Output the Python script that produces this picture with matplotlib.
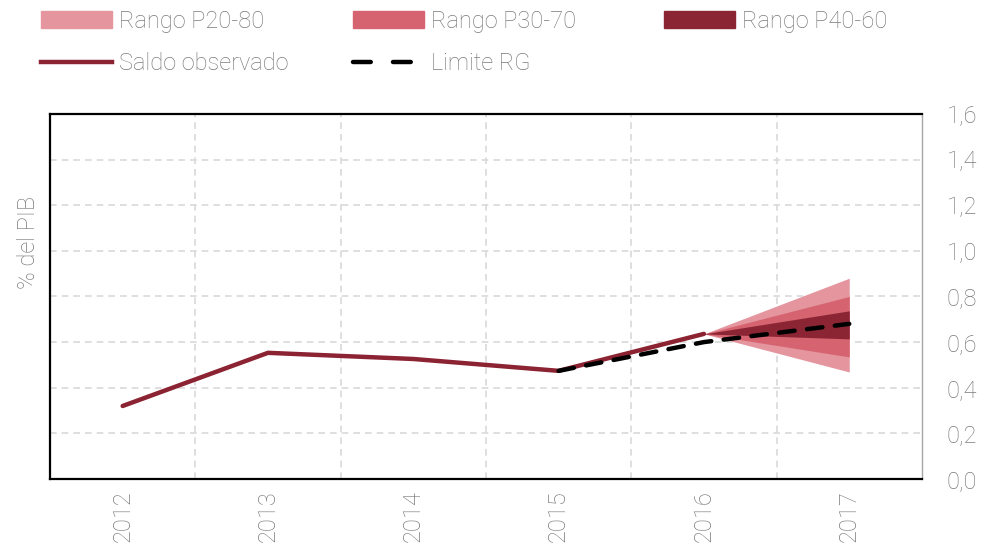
import matplotlib.pyplot as plt
from matplotlib.patches import Patch
from matplotlib.lines import Line2D
from matplotlib.ticker import MultipleLocator, FuncFormatter

plt.rcParams['font.family'] = ['Roboto', 'DejaVu Sans']
plt.rcParams['font.weight'] = 'light'

# datos
years = ["2012", "2013", "2014", "2015", "2016", "2017"]
saldo = [0.32, 0.553, 0.526, 0.474, 0.636]
limite_years = ["2015", "2016", "2017"]
limite = [0.474, 0.60, 0.68]
fan_years = ["2016", "2017"]
p20 = [0.636, 0.469]
p80 = [0.636, 0.88]
p30 = [0.636, 0.535]
p70 = [0.636, 0.80]
p40 = [0.636, 0.614]
p60 = [0.636, 0.737]

c_p20 = "#E4959E"
c_p30 = "#D66470"
c_p40 = "#8B2534"
c_line = "#8B2332"
gray = "#7A7A7A"

fig = plt.figure(figsize=(9.86, 5.53), dpi=100)
ax = fig.add_axes([0.0507, 0.1338, 0.8843, 0.6602])

xi = {y: i for i, y in enumerate(years)}
fx = [xi[y] for y in fan_years]
ax.fill_between(fx, p20, p80, color=c_p20, lw=0, zorder=2)
ax.fill_between(fx, p30, p70, color=c_p30, lw=0, zorder=3)
ax.fill_between(fx, p40, p60, color=c_p40, lw=0, zorder=4)
ax.plot([xi[y] for y in years[:len(saldo)]], saldo, color=c_line, lw=3.2,
        solid_capstyle="round", zorder=5)
ax.plot([xi[y] for y in limite_years], limite, color="black", lw=3.2,
        dashes=(3.5, 2.8), dash_capstyle="round", zorder=6)

ax.set_xlim(-0.5, len(years) - 0.5)
ax.set_ylim(0, 1.6)
ax.set_xticks(range(len(years)))
ax.set_xticklabels(years, rotation=90)
ax.set_xticks([i + 0.5 for i in range(len(years) - 1)], minor=True)
ax.yaxis.set_major_locator(MultipleLocator(0.2))
ax.yaxis.set_major_formatter(FuncFormatter(lambda v, p: f"{v:.1f}".replace(".", ",")))
ax.yaxis.tick_right()
ax.tick_params(axis="y", length=0, pad=18, labelsize=17, labelcolor=gray)
ax.tick_params(axis="x", which="both", length=0, pad=8, labelsize=17, labelcolor=gray)

ax.grid(axis="y", which="major", color="#D9D9D9", ls=(0, (4, 3)), lw=1.2, zorder=0)
ax.grid(axis="x", which="minor", color="#D9D9D9", ls=(0, (4, 3)), lw=1.2, zorder=0)

for s in ["left", "top", "bottom"]:
    ax.spines[s].set_linewidth(1.6)
    ax.spines[s].set_color("black")
ax.spines["right"].set_linewidth(1.0)
ax.spines["right"].set_color("#A6A6A6")

ax.set_ylabel("% del PIB", fontsize=17, color=gray, fontweight="light")
ax.yaxis.set_label_position("left")
ax.yaxis.set_label_coords(-0.012, 0.647)

leg_kw = dict(frameon=False, fontsize=17, labelcolor=gray, handlelength=3.0,
              handleheight=0.7, handletextpad=0.3, labelspacing=0.8,
              borderpad=0, borderaxespad=0, loc="upper left")
top = 1 - 10 / 553
fig.legend(handles=[Patch(color=c_p20, label="Rango P20-80"),
                    Line2D([], [], color=c_line, lw=3.2, label="Saldo observado")],
           bbox_to_anchor=(41 / 986, top), **leg_kw)
fig.legend(handles=[Patch(color=c_p30, label="Rango P30-70"),
                    Line2D([], [], color="black", lw=3.2, dashes=(4, 5),
                           dash_capstyle="round", label="Limite RG")],
           bbox_to_anchor=(353 / 986, top), **leg_kw)
fig.legend(handles=[Patch(color=c_p40, label="Rango P40-60")],
           bbox_to_anchor=(664 / 986, top), **leg_kw)

fig.savefig("out.png", dpi=100)
